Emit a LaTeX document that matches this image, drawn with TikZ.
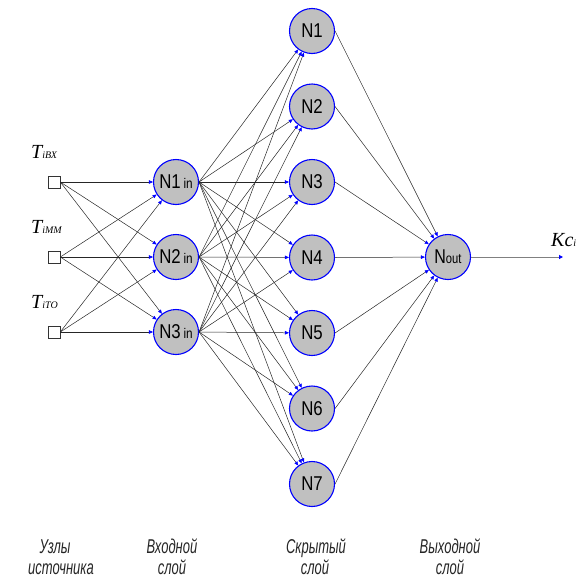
\documentclass[tikz,border=0pt]{standalone}
\usepackage{fontspec}
\setmainfont{Liberation Serif}
\newfontfamily\nfont{Liberation Sans}
\usetikzlibrary{arrows.meta}
\definecolor{nfill}{RGB}{192,192,192}
\definecolor{nblue}{RGB}{0,0,255}
\tikzset{
  neuron/.style={circle, draw=nblue, fill=nfill, line width=1.1pt, minimum size=45pt, inner sep=0pt},
  src/.style={draw=black!80, fill=white, minimum size=12pt, inner sep=0pt, line width=0.6pt},
  conn/.style={draw=black!85, line width=0.5pt, -{Triangle[length=4pt,width=3.5pt,color=nblue]}},
  outl/.style={draw=black!50, line width=1pt, -{Triangle[length=4pt,width=4pt,color=nblue]}},
  nlab/.style={font=\nfont\fontsize{20}{20}\selectfont},
  tlab/.style={anchor=base west, inner sep=0pt, font=\fontsize{20}{20}\selectfont\itshape},
  blab/.style={anchor=base, inner sep=0pt, text=black!85, font=\nfont\itshape\fontsize{20}{20}\selectfont},
}
\newcommand{\nl}[2]{\scalebox{0.84}[1]{#1\,{\fontsize{14}{14}\selectfont #2}}}
\newcommand{\bl}[1]{\scalebox{0.65}[1]{#1}}
\begin{document}
\begin{tikzpicture}[x=1pt,y=-1pt]
\useasboundingbox (0,0) rectangle (583,581);
% source squares
\node[src] (s1) at (54,182) {};
\node[src] (s2) at (54,257) {};
\node[src] (s3) at (54,332) {};
\node[tlab] (t1) at (31,158) {T{\fontsize{10}{10}\selectfont iВХ}};
\node[tlab] (t2) at (31,233) {T{\fontsize{10}{10}\selectfont iММ}};
\node[tlab] (t3) at (31,308) {T{\fontsize{10}{10}\selectfont iТО}};
% input layer
\node[neuron,nlab] (i1) at (176,182) {\nl{N1}{in}};
\node[neuron,nlab] (i2) at (176,257) {\nl{N2}{in}};
\node[neuron,nlab] (i3) at (176,332) {\nl{N3}{in}};
% hidden layer
\foreach \k in {1,...,7} {
  \node[neuron,nlab] (h\k) at (312,{31+75.5*(\k-1)}) {\scalebox{0.84}[1]{N\k}};
}
% output
\node[neuron,nlab] (o) at (448,257) {\scalebox{0.8}[1]{N{\fontsize{14}{14}\selectfont out}}};
\coordinate (kend) at (563,257);
\node[tlab] (kc) at (551,246) {Kc{\fontsize{10}{10}\selectfont i}};
% connections
\foreach \s in {1,2,3} {
  \foreach \i in {1,2,3} {
    \draw[conn] (s\s.east) -- (i\i);
  }
}
\foreach \i in {1,2,3} {
  \foreach \k in {1,...,7} {
    \draw[conn] (i\i.east) -- (h\k);
  }
}
\foreach \k in {1,...,7} {
  \draw[conn] (h\k.east) -- (o);
}
\draw[outl] (o.east) -- (kend);
% bottom labels
\node[blab] (b1a) at (55,553) {\bl{Узлы}};
\node[blab] (b1b) at (61,574) {\bl{источника}};
\node[blab] (b2a) at (172,553) {\bl{Входной}};
\node[blab] (b2b) at (172,574) {\bl{слой}};
\node[blab] (b3a) at (316,553) {\bl{Скрытый}};
\node[blab] (b3b) at (315,574) {\bl{слой}};
\node[blab] (b4a) at (450,553) {\bl{Выходной}};
\node[blab] (b4b) at (450,574) {\bl{слой}};
\end{tikzpicture}
\end{document}
